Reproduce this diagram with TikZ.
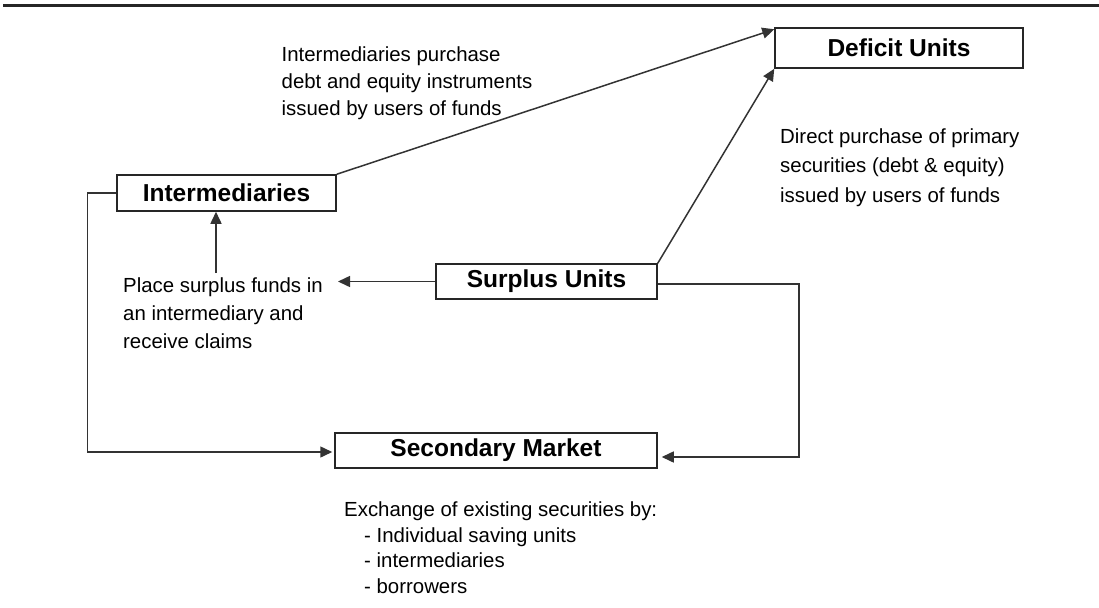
\documentclass[tikz,border=0pt]{standalone}
\usepackage{fontspec}
\setmainfont{Liberation Sans}
\usetikzlibrary{arrows.meta}
\begin{document}
\begin{tikzpicture}[x=1pt,y=-1pt,
  box/.style={draw=black!85, line width=1.5pt, inner sep=0pt, font=\fontsize{24.5}{29}\selectfont\bfseries},
  lbl/.style={inner sep=0pt, align=left, anchor=base west},
  conn/.style={draw=black!80, line width=1.5pt},
  arr/.style={conn, -{Triangle[length=12pt,width=11pt]}}]
\useasboundingbox (0,0) rectangle (1099,607);
\draw[line width=3pt, black!85] (3,5.5) -- (1099,5.5);
% boxes
\node[box, minimum width=248pt, minimum height=40pt] (def) at (899,48) {Deficit Units};
\node[box, minimum width=219pt, minimum height=36pt] (int) at (226.5,193) {Intermediaries};
\node[box, minimum width=221pt, minimum height=35pt] (sur) at (546.5,281.5) {Surplus Units};
\node[box, minimum width=322pt, minimum height=35pt] (sec) at (496,450.5) {Secondary Market};
% labels (anchor = baseline of last line)
\node[lbl, font=\fontsize{20.4}{27}\selectfont] (t1) at (281.5,116) {Intermediaries purchase\\debt and equity instruments\\issued by users of funds};
\node[lbl, font=\fontsize{20.4}{29.5}\selectfont] (t2) at (780,202) {Direct purchase of primary\\securities (debt \& equity)\\issued by users of funds};
\node[lbl, font=\fontsize{20.4}{28}\selectfont] (t3) at (123,348) {Place surplus funds in\\an intermediary and\\receive claims};
\node[lbl, font=\fontsize{20.4}{25.7}\selectfont] (t4) at (344,593.5) {Exchange of existing securities by:\\\hspace*{20pt}- Individual saving units\\\hspace*{20pt}- intermediaries\\\hspace*{20pt}- borrowers};
% connectors
\coordinate (placetip) at (338,283);
\coordinate (placetop) at (216,273);
\draw[arr] (int.north east) -- ([yshift=-2pt]def.north west);
\draw[arr] (sur.north east) -- (def.south west);
\draw[arr] (sur.west) -- (placetip |- sur.west);
\draw[arr] (placetop) -- (placetop |- int.south);
\draw[arr, shorten >=2pt] (int.west) -- ++(-29,0) |- ([yshift=-1.5pt]sec.west);
\draw[arr, shorten >=4pt] ([yshift=-2.5pt]sur.east) -- ++(141,0) |- ([yshift=-6.5pt]sec.east);
\end{tikzpicture}
\end{document}
